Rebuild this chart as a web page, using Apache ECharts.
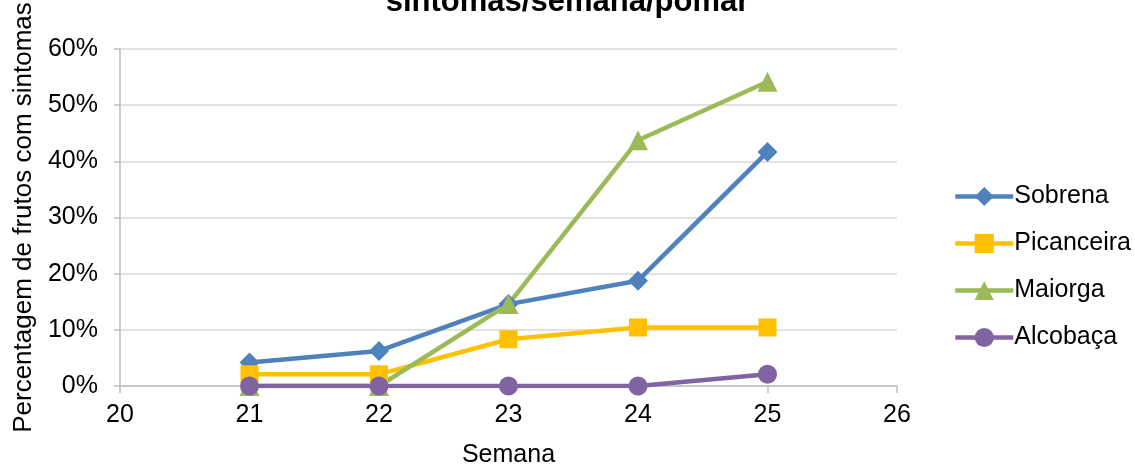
<!DOCTYPE html>
<html>
<head>
<meta charset="utf-8">
<script src="https://cdn.jsdelivr.net/npm/echarts@6/dist/echarts.min.js"></script>
<style>
    html, body {margin: 0; padding: 0; background: #fff;}
    #chart {width: 1135px; height: 468px;}
</style>
</head>
<body>
<div id="chart"></div>
<script>
// 数据
var semanas = [21, 22, 23, 24, 25];
var sobrena = [0.0417, 0.0625, 0.1458, 0.1875, 0.4167];
var picanceira = [0.0208, 0.0208, 0.0833, 0.1042, 0.1042];
var maiorga = [0, 0, 0.1458, 0.4375, 0.5417];
var alcobaca = [0, 0, 0, 0, 0.0208];
var nomes = ['Sobrena', 'Picanceira', 'Maiorga', 'Alcobaça'];
var cores = ['#4F81BD', '#FFC000', '#9BBB59', '#8064A2'];
var simbolos = ['diamond', 'rect', 'triangle', 'circle'];
var tamanhos = [20, 18, 20, 19];

function pares(valores) {
    return semanas.map(function (s, i) { return [s, valores[i]]; });
}

var fonte = 'Liberation Sans, Arial, sans-serif';
var chart = echarts.init(document.getElementById('chart'));

var series = [sobrena, picanceira, maiorga, alcobaca].map(function (v, i) {
    return {
        name: nomes[i],
        type: 'line',
        data: pares(v),
        symbol: simbolos[i],
        symbolSize: tamanhos[i],
        showAllSymbol: true,
        lineStyle: {color: cores[i], width: 4.5},
        itemStyle: {color: cores[i]},
        animation: false
    };
});

var option = {
    title: {
        text: 'sintomas/semana/pomar',
        left: 'center',
        top: -18,
        textStyle: {fontFamily: fonte, fontSize: 31, fontWeight: 'bold', color: '#000'}
    },
    legend: {
        orient: 'vertical',
        left: 948,
        top: 179,
        itemWidth: 58,
        itemHeight: 24,
        itemGap: 22,
        lineStyle: {width: 4.5},
        textStyle: {fontFamily: fonte, fontSize: 25, color: '#000', padding: [0, 0, 0, -4]},
        data: nomes
    },
    grid: {left: 120, right: 238, top: 49, bottom: 82, outerBoundsMode: 'none', containLabel: false},
    xAxis: {
        type: 'value',
        min: 20,
        max: 26,
        interval: 1,
        name: 'Semana',
        nameLocation: 'middle',
        nameGap: 57,
        nameTextStyle: {fontFamily: fonte, fontSize: 25, color: '#000'},
        axisLine: {show: true, lineStyle: {color: '#BFBFBF', width: 1.5}},
        axisTick: {show: true, length: 7, lineStyle: {color: '#BFBFBF', width: 1.5}},
        axisLabel: {fontFamily: fonte, fontSize: 25, color: '#000', margin: 17},
        splitLine: {show: false}
    },
    yAxis: {
        type: 'value',
        min: 0,
        max: 0.6,
        interval: 0.1,
        name: 'Percentagem de frutos com sintomas',
        nameLocation: 'middle',
        nameGap: 82,
        nameRotate: 90,
        nameTextStyle: {fontFamily: fonte, fontSize: 26, color: '#000'},
        axisLine: {show: true, lineStyle: {color: '#BFBFBF', width: 1.5}},
        axisTick: {show: true, length: 6, lineStyle: {color: '#BFBFBF', width: 1.5}},
        axisLabel: {
            fontFamily: fonte, fontSize: 25, color: '#000', margin: 22,
            formatter: function (v) { return Math.round(v * 100) + '%'; }
        },
        splitLine: {show: true, lineStyle: {color: '#D9D9D9', width: 1.5}}
    },
    series: series
};

chart.setOption(option);
</script>
</body>
</html>
